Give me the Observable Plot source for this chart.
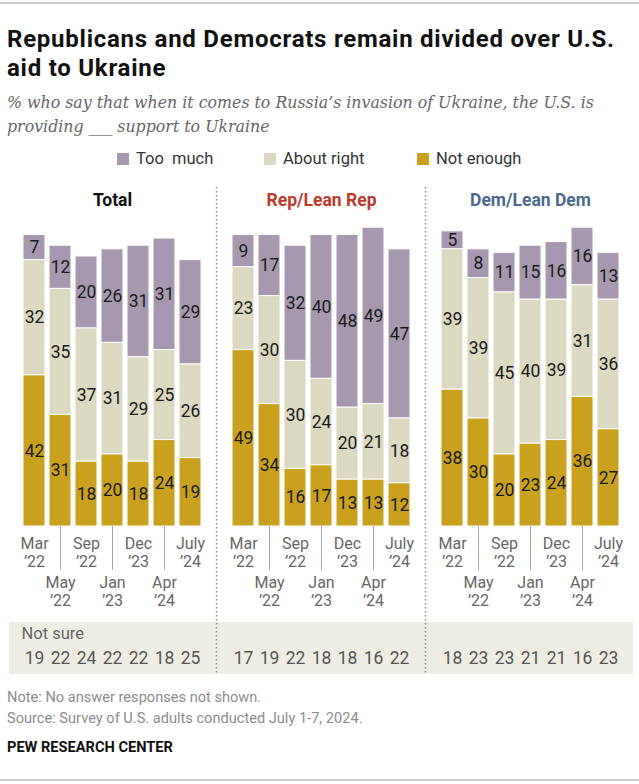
<!DOCTYPE html>
<html>
<head>
<meta charset="utf-8">
<script src="https://cdn.jsdelivr.net/npm/d3@7"></script>
<script src="https://cdn.jsdelivr.net/npm/@observablehq/plot@0.6"></script>
<style>
  html, body { margin: 0; padding: 0; background: #fff; }
  #wrap { position: relative; width: 639px; height: 784px; overflow: hidden; font-family: Roboto, "Liberation Sans", sans-serif; }
  .abs { position: absolute; white-space: nowrap; }
  .rule { position: absolute; left: 0; width: 639px; height: 2px; background: #c8c8c8; }
  #title { left: 7px; top: 25px; font-size: 24px; line-height: 29px; font-weight: 700; color: #111; letter-spacing: 0.75px; }
  #subtitle { left: 7px; top: 91px; font-family: "DejaVu Serif", Georgia, serif; font-style: italic; font-size: 15.8px; line-height: 24px; color: #666; }
  #legend { left: 0; top: 149px; width: 639px; height: 20px; font-size: 16.5px; color: #333; }
  .lg { position: absolute; top: 0; line-height: 20px; }
  .sw { display: inline-block; width: 12px; height: 12px; vertical-align: -1px; margin-right: 7px; }
  #chart { position: absolute; left: 0; top: 180px; }
  .note { left: 7px; font-size: 14.6px; color: #8c8c8c; }
  #pew { left: 7px; top: 738px; font-size: 14.6px; font-weight: 700; color: #111; }
</style>
</head>
<body>
<div id="wrap">
  <div class="rule" style="top:2px"></div>
  <div id="title" class="abs">Republicans and Democrats remain divided over U.S.<br>aid to Ukraine</div>
  <div id="subtitle" class="abs">% who say that when it comes to Russia’s invasion of Ukraine, the U.S. is<br>providing ___ support to Ukraine</div>
  <div id="legend" class="abs"></div>
  <div id="chart"></div>
  <div class="abs note" style="top:688px">Note: No answer responses not shown.</div>
  <div class="abs note" style="top:709px">Source: Survey of U.S. adults conducted July 1-7, 2024.</div>
  <div id="pew" class="abs">PEW RESEARCH CENTER</div>
  <div class="rule" style="top:779px"></div>
</div>
<script>
// ---- data ----
const groups = ["Total", "Rep/Lean Rep", "Dem/Lean Dem"];
const groupColors = ["#111111", "#bd3a2c", "#4a6a8c"];
const dates = ["Mar '22", "May '22", "Sep '22", "Jan '23", "Dec '23", "Apr '24", "July '24"];
const dateLabels = ["Mar\n’22", "May\n’22", "Sep\n’22", "Jan\n’23", "Dec\n’23", "Apr\n’24", "July\n’24"];
const categories = ["Too much", "About right", "Not enough"];
const legendLabels = ["Too\u00a0 much", "About right", "Not enough"];
const categoryColors = ["#a699af", "#dcd9c2", "#c9a11f"];
const notSureLabel = "Not sure";

const totalNotEnough = [42, 31, 18, 20, 18, 24, 19];
const totalAboutRight = [32, 35, 37, 31, 29, 25, 26];
const totalTooMuch = [7, 12, 20, 26, 31, 31, 29];
const totalNotSure = [19, 22, 24, 22, 22, 18, 25];

const repNotEnough = [49, 34, 16, 17, 13, 13, 12];
const repAboutRight = [23, 30, 30, 24, 20, 21, 18];
const repTooMuch = [9, 17, 32, 40, 48, 49, 47];
const repNotSure = [17, 19, 22, 18, 18, 16, 22];

const demNotEnough = [38, 30, 20, 23, 24, 36, 27];
const demAboutRight = [39, 39, 45, 40, 39, 31, 36];
const demTooMuch = [5, 8, 11, 15, 16, 16, 13];
const demNotSure = [18, 23, 23, 21, 21, 16, 23];

// ---- build tables ----
const series = {
  "Total": {"Too much": totalTooMuch, "About right": totalAboutRight, "Not enough": totalNotEnough, notSure: totalNotSure},
  "Rep/Lean Rep": {"Too much": repTooMuch, "About right": repAboutRight, "Not enough": repNotEnough, notSure: repNotSure},
  "Dem/Lean Dem": {"Too much": demTooMuch, "About right": demAboutRight, "Not enough": demNotEnough, notSure: demNotSure}
};
const rows = [];
const notSureRows = [];
const tickRows = [];
for (const g of groups) {
  dates.forEach((d, i) => {
    for (const c of categories) rows.push({group: g, date: d, category: c, value: series[g][c][i]});
    notSureRows.push({group: g, date: d, value: series[g].notSure[i]});
    tickRows.push({group: g, date: d, label: dateLabels[i], row: i % 2});
  });
}
const stackOrder = ["Not enough", "About right", "Too much"];

// ---- legend ----
const legendX = [117, 264, 417];
const legend = document.getElementById("legend");
categories.forEach((c, i) => {
  const s = document.createElement("div");
  s.className = "lg";
  s.style.left = legendX[i] + "px";
  s.innerHTML = `<span class="sw" style="background:${categoryColors[i]}"></span>${legendLabels[i]}`;
  legend.appendChild(s);
});

// ---- chart ----
const chart = Plot.plot({
  width: 639,
  height: 500,
  marginTop: 22,
  marginBottom: 154,
  marginLeft: 19,
  marginRight: 17,
  style: {fontFamily: "Roboto, 'Liberation Sans', sans-serif", background: "transparent", overflow: "visible"},
  fx: {domain: groups, paddingInner: 0.1217, paddingOuter: 0, axis: null, label: null},
  x: {domain: dates, paddingInner: 1 / 7, paddingOuter: 0, axis: null, label: null},
  y: {domain: [0, 90], axis: null, label: null},
  color: {domain: categories, range: categoryColors},
  marks: [
    Plot.barY(rows, Plot.stackY({
      fx: "group", x: "date", y: "value", fill: "category", order: stackOrder,
      stroke: "white", strokeWidth: 1
    })),
    Plot.text(rows, Plot.stackY({
      fx: "group", x: "date", y: "value", z: "category", order: stackOrder,
      text: "value", fontSize: 17.5, fill: "#1b1b1b"
    })),
    ...groups.map((g, i) => Plot.text([g], {
      fx: d => d, text: d => d, frameAnchor: "top", dy: -9,
      fill: groupColors[i], fontSize: 17.5, fontWeight: "bold"
    })),
    Plot.ruleX(tickRows.filter(d => d.row === 1), {
      fx: "group", x: "date", y1: 0, y2: 0, insetBottom: -44, stroke: "#aaaaaa", strokeWidth: 1
    }),
    Plot.text(tickRows.filter(d => d.row === 0), {
      fx: "group", x: "date", text: "label", frameAnchor: "bottom", lineAnchor: "top",
      dy: 9, fontSize: 16, lineHeight: 1.15, fill: "#666"
    }),
    Plot.text(tickRows.filter(d => d.row === 1), {
      fx: "group", x: "date", text: "label", frameAnchor: "bottom", lineAnchor: "top",
      dy: 48, fontSize: 16, lineHeight: 1.15, fill: "#666"
    }),
    Plot.text([notSureLabel], {
      fx: () => groups[0], text: d => d, frameAnchor: "bottom-left", textAnchor: "start",
      dx: 1, dy: 112, fontSize: 16.5, fill: "#666"
    }),
    Plot.text(notSureRows, {
      fx: "group", x: "date", text: "value", frameAnchor: "bottom",
      dy: 137, fontSize: 17.5, fill: "#555"
    })
  ]
});
document.getElementById("chart").appendChild(chart);

// ---- decorations derived from the scales: band behind "Not sure" row and dotted dividers ----
const fxS = chart.scale("fx");
const yS = chart.scale("y");
const bw = fxS.bandwidth;
const fxPos = g => fxS.apply(g);
const y0 = yS.apply(0);
const svgSel = d3.select(chart);
const decoBack = svgSel.insert("g", ":first-child");
const ext = 11;
decoBack.append("rect")
  .attr("x", fxPos(groups[0]) - ext)
  .attr("y", y0 + 96)
  .attr("width", fxPos(groups[2]) + bw + ext - (fxPos(groups[0]) - ext))
  .attr("height", 52)
  .attr("fill", "#eeede3");
const decoFront = svgSel.append("g");
for (let i = 1; i < groups.length; i++) {
  const xm = (fxPos(groups[i - 1]) + bw + fxPos(groups[i])) / 2;
  decoFront.append("line")
    .attr("x1", xm).attr("x2", xm)
    .attr("y1", 7).attr("y2", y0 + 149)
    .attr("stroke", "#8f8f8f").attr("stroke-width", 1.5)
    .attr("stroke-dasharray", "1.5,2.5");
}
</script>
</body>
</html>
